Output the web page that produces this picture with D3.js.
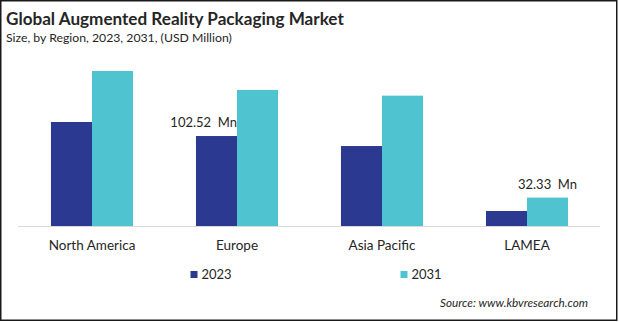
<!DOCTYPE html>
<html><head><meta charset="utf-8">
<script src="https://cdn.jsdelivr.net/npm/d3@7"></script>
<style>
html,body{margin:0;padding:0;background:#fff;}
svg{display:block;font-family:Lato,"Open Sans",sans-serif;}
</style></head>
<body>
<svg id="chart" width="619" height="322"></svg>
<script>
const regions = ["North America", "Europe", "Asia Pacific", "LAMEA"];
const seriesNames = ["2023", "2031"];
const values2023 = [118.5, 102.52, 91.1, 17.1];
const values2031 = [176.6, 155.0, 148.5, 32.33];
const colors = ["#2B3990", "#4FC3CF"];
const title = "Global Augmented Reality Packaging Market";
const subtitle = "Size, by Region, 2023, 2031, (USD Million)";
const source = "Source: www.kbvresearch.com";
const annotations = [
  {region: "Europe", series: "2023", text: "102.52  Mn", anchor: "end"},
  {region: "LAMEA", series: "2031", text: "32.33  Mn", anchor: "middle"}
];

const svg = d3.select("#chart");
svg.append("rect").attr("x",0.75).attr("y",0.75).attr("width",616).attr("height",319.5)
  .attr("fill","#fff").attr("stroke","#1a1a1a").attr("stroke-width",1.5);

function fit(sel, target){
  const n = sel.node();
  const w = n.getComputedTextLength();
  const fs = parseFloat(sel.attr("font-size"));
  sel.attr("font-size", (fs*target/w).toFixed(2));
}

const t = svg.append("text").attr("x",6).attr("y",25).attr("font-size",17).attr("font-weight","bold")
  .attr("fill","#262626").text(title);
fit(t, 338);
const st = svg.append("text").attr("x",6).attr("y",42).attr("font-size",12.5).attr("fill","#262626").text(subtitle);
fit(st, 226);

const baseY = 226;
const x0 = d3.scaleBand().domain(regions).range([19.5, 599.5]).paddingInner(0.434).paddingOuter(0.217);
const x1 = d3.scaleBand().domain(seriesNames).range([0, x0.bandwidth()]);
const y = d3.scaleLinear().domain([0, 176.6]).range([baseY, 71]);

const data = regions.map((r,i)=>({region:r, vals:[values2023[i], values2031[i]]}));

const g = svg.append("g");
g.selectAll("g.grp").data(data).join("g").attr("class","grp")
  .attr("transform", d=>`translate(${x0(d.region)},0)`)
  .selectAll("rect").data(d=>d.vals.map((v,j)=>({s:seriesNames[j], v, j})))
  .join("rect")
  .attr("x", d=>x1(d.s)).attr("width", x1.bandwidth())
  .attr("y", d=>y(d.v)).attr("height", d=>baseY - y(d.v))
  .attr("fill", d=>colors[d.j]);

svg.append("line").attr("x1",18).attr("x2",600).attr("y1",baseY+0.5).attr("y2",baseY+0.5)
  .attr("stroke","#d9d9d9").attr("stroke-width",1);

const xAxis = d3.axisBottom(x0).tickSize(0).tickPadding(0);
const ax = svg.append("g").attr("transform",`translate(0,${baseY})`).call(xAxis);
ax.select(".domain").remove();
ax.selectAll("text").attr("font-family","Lato,'Open Sans',sans-serif").attr("font-size",13.5)
  .attr("fill","#262626").attr("dy",0).attr("y",24);

annotations.forEach(a=>{
  const ri = regions.indexOf(a.region);
  const si = seriesNames.indexOf(a.series);
  const v = si===0 ? values2023[ri] : values2031[ri];
  const bx = x0(a.region) + x1(a.series);
  const xx = a.anchor==="end" ? bx + x1.bandwidth() : bx + x1.bandwidth()/2;
  svg.append("text").attr("x", xx).attr("y", y(v) - 9).attr("text-anchor", a.anchor)
    .attr("font-size",13).attr("fill","#262626").style("white-space","pre").text(a.text);
});

const legX = [190.5, 400.5];
seriesNames.forEach((s,i)=>{
  svg.append("rect").attr("x",legX[i]).attr("y",271).attr("width",7).attr("height",7).attr("fill",colors[i]);
  svg.append("text").attr("x",legX[i]+11).attr("y",279).attr("font-size",13).attr("fill","#262626").text(s);
});

const src = svg.append("text").attr("x",588).attr("y",307).attr("text-anchor","end")
  .attr("font-size",11).attr("font-style","italic").attr("fill","#262626").text(source);
fit(src, 148);
</script>
</body></html>
